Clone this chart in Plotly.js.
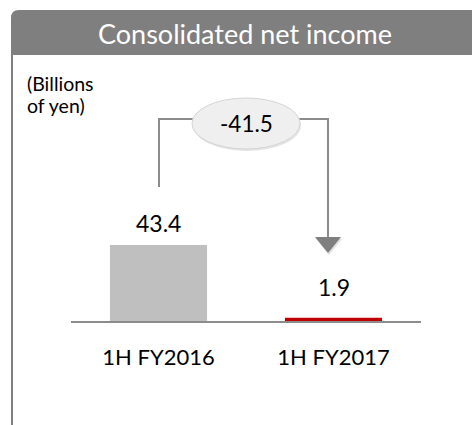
<!DOCTYPE html>
<html>
<head>
<meta charset="utf-8">
<script src="https://cdn.plot.ly/plotly-3.0.1.min.js"></script>
<style>html,body{margin:0;padding:0;background:#fff;}#chart{width:472px;height:425px;}</style>
</head>
<body>
<div id="chart"></div>
<script>
const categories = ['1H FY2016', '1H FY2017'];
const values = [43.4, 1.9];
const barColors = ['#bfbfbf', '#c00000'];
const chartTitle = 'Consolidated net income';
const unitLines = ['(Billions', 'of yen)'];
const change = Math.round((values[1] - values[0]) * 10) / 10;

const FONT = 'Lato, "Open Sans", sans-serif';
const W = 472, H = 425;
const px = x => x / W;
const py = y => 1 - y / H;

const trace = {
  type: 'bar',
  x: categories,
  y: values,
  marker: {color: barColors},
  width: 0.555,
  hoverinfo: 'skip'
};

const labelShift = [22, 31];
const annotations = values.map((v, i) => ({
  x: categories[i], y: v, xref: 'x', yref: 'y',
  text: v.toFixed(1), showarrow: false,
  yanchor: 'middle', yshift: labelShift[i],
  font: {family: FONT, size: 23, color: '#000'}
}));
annotations.push({
  x: px(245), y: py(34), xref: 'paper', yref: 'paper',
  text: chartTitle, showarrow: false, xanchor: 'center', yanchor: 'middle',
  font: {family: FONT, size: 27, color: '#fff'}
});
unitLines.forEach((t, i) => annotations.push({
  x: px(25), y: py(83 + 22 * i), xref: 'paper', yref: 'paper',
  text: t, showarrow: false, xanchor: 'left', yanchor: 'middle', align: 'left',
  font: {family: FONT, size: 19.5, color: '#000'}
}));
annotations.push({
  x: px(246), y: py(123), xref: 'paper', yref: 'paper',
  text: change.toFixed(1), showarrow: false, xanchor: 'center', yanchor: 'middle',
  font: {family: FONT, size: 22.5, color: '#000'}
});

const gray = '#8c8c8c';
const shapes = [
  // header
  {type: 'path', xref: 'paper', yref: 'paper',
   path: `M ${px(11)} ${py(55)} L ${px(11)} ${py(18)} Q ${px(11)} ${py(10)} ${px(19)} ${py(10)} L ${px(480)} ${py(10)} L ${px(480)} ${py(55)} Z`,
   fillcolor: '#7f7f7f', line: {width: 0}},
  // left border
  {type: 'line', xref: 'paper', yref: 'paper', x0: px(12), x1: px(12), y0: py(55), y1: py(425),
   line: {color: '#7f7f7f', width: 2}},
  // bracket
  {type: 'path', xref: 'paper', yref: 'paper',
   path: `M ${px(159)} ${py(187)} L ${px(159)} ${py(119)} L ${px(328)} ${py(119)} L ${px(328)} ${py(238)}`,
   line: {color: gray, width: 2}},
  // arrow head shadow
  {type: 'path', xref: 'paper', yref: 'paper',
   path: `M ${px(316)} ${py(239)} L ${px(342)} ${py(239)} L ${px(329)} ${py(255)} Z`,
   fillcolor: 'rgba(0,0,0,0.12)', line: {width: 0}},
  // arrow head
  {type: 'path', xref: 'paper', yref: 'paper',
   path: `M ${px(315)} ${py(237)} L ${px(341)} ${py(237)} L ${px(328)} ${py(253)} Z`,
   fillcolor: '#7f7f7f', line: {width: 0}},
  // ellipse shadow
  {type: 'circle', xref: 'paper', yref: 'paper', x0: px(193), x1: px(301), y0: py(100), y1: py(151),
   fillcolor: 'rgba(0,0,0,0.10)', line: {width: 0}},
  // ellipse
  {type: 'circle', xref: 'paper', yref: 'paper', x0: px(192), x1: px(300), y0: py(98), y1: py(149),
   fillcolor: '#efefef', line: {color: '#d4d4d4', width: 1}}
];

const layout = {
  width: W, height: H,
  margin: {l: 0, r: 0, t: 0, b: 0},
  paper_bgcolor: '#fff', plot_bgcolor: 'rgba(0,0,0,0)',
  showlegend: false,
  xaxis: {
    domain: [px(71), px(421)],
    type: 'category', range: [-0.5, 1.5],
    showline: true, linecolor: '#8c8c8c', linewidth: 2,
    ticks: '', showgrid: false, zeroline: false,
    ticklabelstandoff: 16,
    tickfont: {family: FONT, size: 22, color: '#000'},
    fixedrange: true
  },
  yaxis: {
    domain: [1 - 321 / H, 1],
    range: [0, 321 / 1.751],
    visible: false, fixedrange: true
  },
  shapes: shapes,
  annotations: annotations
};

Plotly.newPlot('chart', [trace], layout, {displayModeBar: false, staticPlot: true});
</script>
</body>
</html>
